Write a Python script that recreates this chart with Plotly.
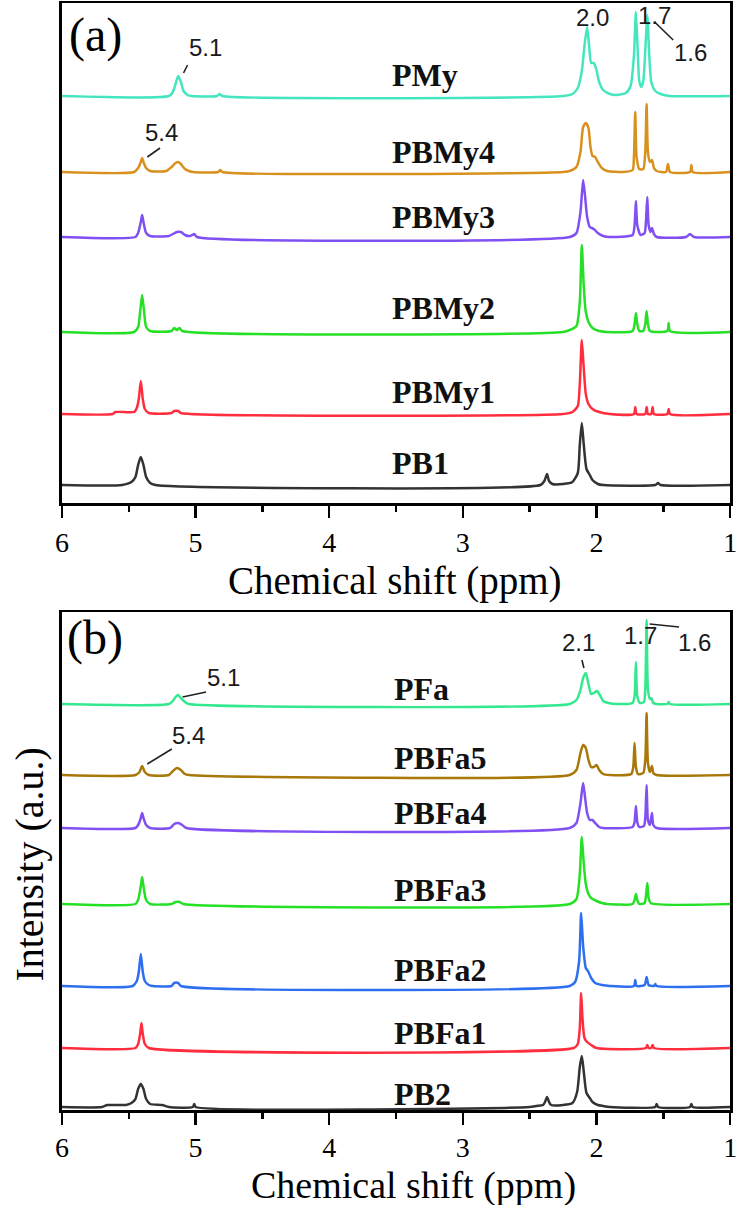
import plotly.graph_objects as go

# ---------------- data: spectra as (ppm, intensity) vertices ----------------
PMY = [(6.0,0),(5.20,0),(5.17,4),(5.15,12),(5.13,20),(5.11,14),(5.09,5),(5.06,1),(5.03,0),
       (4.84,0),(4.82,2),(4.80,0),(2.25,0),(2.18,2),(2.14,8),(2.11,25),(2.09,50),(2.07,69),
       (2.055,50),(2.04,33),(2.02,33),(2.00,26),(1.98,14),(1.95,6),(1.90,2),(1.85,1),(1.78,3),
       (1.745,10),(1.72,40),(1.705,84),(1.69,40),(1.68,15),(1.665,9),(1.65,15),(1.635,45),
       (1.62,81),(1.605,40),(1.59,14),(1.56,5),(1.52,2),(1.45,0),(1.0,0)]
PBMY4 = [(6.0,0),(5.46,0),(5.43,4),(5.41,10),(5.40,14),(5.39,10),(5.37,4),(5.34,1),(5.22,1),
         (5.18,5),(5.15,9),(5.13,10),(5.11,8),(5.08,3),(5.05,1),(5.02,0),(4.83,0),(4.815,2),
         (4.80,0),(2.25,0),(2.20,1),(2.15,5),(2.12,20),(2.10,45),(2.08,49),(2.06,44),(2.045,25),
         (2.03,16),(2.01,15),(1.99,10),(1.96,4),(1.92,1),(1.80,0),(1.73,2),(1.72,15),(1.71,60),
         (1.70,15),(1.68,3),(1.65,3),(1.635,20),(1.625,68),(1.615,20),(1.60,10),(1.585,12),
         (1.57,4),(1.55,1),(1.48,0),(1.465,8),(1.45,0),(1.30,0),(1.29,7),(1.28,0),(1.0,0)]
PBMY3 = [(6.0,0),(5.45,0),(5.43,4),(5.41,15),(5.40,22),(5.39,15),(5.37,4),(5.34,1),(5.20,1),
         (5.17,3),(5.14,5),(5.11,5),(5.08,2),(5.04,1),(5.01,3),(4.99,0),(2.20,0),(2.15,4),
         (2.12,25),(2.10,57),(2.085,40),(2.07,20),(2.05,10),(2.02,8),(1.99,4),(1.95,1),(1.90,0),
         (1.73,2),(1.715,12),(1.705,36),(1.695,12),(1.67,2),(1.64,4),(1.63,15),(1.62,40),
         (1.61,12),(1.595,5),(1.585,9),(1.57,3),(1.55,0),(1.33,0),(1.30,3),(1.27,0),(1.0,0)]
PBMY2 = [(6.0,0),(5.46,0),(5.43,5),(5.415,20),(5.40,37),(5.385,20),(5.37,5),(5.34,1),(5.18,1),
         (5.16,4),(5.14,2),(5.12,4),(5.10,1),(2.25,0),(2.20,2),(2.15,6),(2.125,30),(2.11,87),
         (2.095,45),(2.08,20),(2.06,10),(2.03,4),(1.98,1),(1.92,0),(1.73,1),(1.715,8),(1.705,19),
         (1.695,8),(1.68,1),(1.65,1),(1.635,8),(1.625,21),(1.615,8),(1.60,1),(1.47,1),(1.46,9),
         (1.45,1),(1.0,0)]
PBMY1 = [(6.0,0),(5.62,0),(5.60,2),(5.46,2),(5.44,6),(5.425,15),(5.41,33),(5.395,15),(5.38,5),
         (5.35,1),(5.18,1),(5.16,3),(5.13,3),(5.11,1),(2.25,0),(2.18,2),(2.14,8),(2.125,30),
         (2.11,74),(2.095,45),(2.08,20),(2.06,10),(2.03,5),(1.98,2),(1.90,0),(1.72,0),(1.71,7),
         (1.70,0),(1.635,0),(1.625,7),(1.615,0),(1.59,0),(1.58,7),(1.57,0),(1.47,0),(1.46,5),
         (1.45,0),(1.0,0)]
PB1 = [(6.0,0),(5.55,0),(5.48,3),(5.45,8),(5.43,20),(5.41,28),(5.39,20),(5.37,8),(5.34,2),
       (5.30,0),(2.42,0),(2.39,4),(2.37,11),(2.355,4),(2.33,1),(2.25,1),(2.18,3),(2.14,12),
       (2.125,40),(2.11,62),(2.095,40),(2.075,16),(2.05,10),(2.03,5),(1.99,1),(1.95,0),(1.56,0),
       (1.54,2),(1.52,0),(1.0,0)]

PFA = [(6.0,0),(5.20,0),(5.17,3),(5.15,7),(5.13,9),(5.11,6),(5.08,2),(5.05,0),(2.20,0),(2.15,4),
       (2.12,14),(2.10,26),(2.08,31),(2.06,20),(2.04,10),(2.02,11),(1.995,13),(1.975,9),(1.95,3),
       (1.91,1),(1.85,0),(1.73,1),(1.715,8),(1.705,42),(1.695,8),(1.675,1),(1.645,2),(1.635,15),
       (1.625,84),(1.615,15),(1.60,5),(1.59,6),(1.575,1),(1.55,0),(1.47,0),(1.46,2),(1.45,0),(1.0,0)]
PBFA5 = [(6.0,0),(5.45,0),(5.42,3),(5.40,9),(5.38,3),(5.35,0),(5.20,0),(5.17,4),(5.14,7),(5.11,5),
         (5.08,1),(5.05,0),(2.20,0),(2.15,5),(2.12,22),(2.10,30),(2.08,27),(2.06,15),(2.04,8),
         (2.02,8),(2.00,10),(1.98,5),(1.95,1),(1.90,0),(1.74,1),(1.725,8),(1.715,32),(1.705,8),
         (1.69,1),(1.65,2),(1.635,15),(1.625,62),(1.615,12),(1.60,3),(1.585,9),(1.575,2),(1.55,0),(1.0,0)]
PBFA4 = [(6.0,0),(5.45,0),(5.43,3),(5.41,10),(5.40,15),(5.39,10),(5.37,3),(5.34,0),(5.19,0),
         (5.16,4),(5.13,5),(5.10,3),(5.07,0),(2.20,0),(2.15,5),(2.12,25),(2.10,45),(2.085,30),
         (2.07,15),(2.05,8),(2.03,8),(2.01,5),(1.98,1),(1.95,0),(1.73,1),(1.715,6),(1.705,22),
         (1.695,6),(1.68,1),(1.645,2),(1.635,10),(1.625,43),(1.615,8),(1.60,3),(1.585,15),
         (1.575,3),(1.55,0),(1.0,0)]
PBFA3 = [(6.0,0),(5.45,0),(5.43,4),(5.41,18),(5.40,27),(5.39,18),(5.37,4),(5.34,0),(5.18,0),
         (5.15,2),(5.12,2),(5.09,0),(2.20,0),(2.15,5),(2.125,30),(2.11,67),(2.095,40),(2.08,20),
         (2.06,10),(2.04,6),(2.00,3),(1.96,1),(1.92,0),(1.73,0),(1.715,4),(1.705,10),(1.695,4),
         (1.68,0),(1.64,1),(1.63,8),(1.62,21),(1.61,6),(1.595,1),(1.0,0)]
PBFA2 = [(6.0,0),(5.47,0),(5.44,5),(5.425,14),(5.41,32),(5.395,14),(5.38,5),(5.35,1),(5.32,0),
         (5.18,0),(5.16,3),(5.13,3),(5.11,0),(2.20,0),(2.16,4),(2.13,25),(2.115,73),(2.10,40),
         (2.08,18),(2.06,14),(2.04,8),(2.01,3),(1.96,1),(1.90,0),(1.72,0),(1.71,6),(1.70,0),
         (1.64,1),(1.625,9),(1.61,1),(1.57,0),(1.56,2),(1.55,0),(1.0,0)]
PBFA1 = [(6.0,0),(5.45,0),(5.43,4),(5.415,14),(5.405,25),(5.395,14),(5.38,4),(5.35,0),(2.17,0),
         (2.14,4),(2.125,20),(2.115,55),(2.105,30),(2.09,10),(2.07,6),(2.04,3),(2.00,0),(1.63,0),
         (1.62,3),(1.61,0),(1.59,0),(1.58,3),(1.57,0),(1.0,0)]
PB2 = [(6.0,0),(5.70,0),(5.66,2),(5.52,2),(5.48,4),(5.45,8),(5.43,18),(5.41,23),(5.39,18),
       (5.37,8),(5.34,3),(5.25,2),(5.20,0),(5.02,0),(5.01,3),(5.00,0),(2.50,0),(2.45,1),(2.40,2),
       (2.385,5),(2.37,10),(2.355,5),(2.34,2),(2.25,2),(2.18,4),(2.145,15),(2.125,40),(2.11,51),
       (2.095,35),(2.075,14),(2.05,9),(2.03,5),(1.99,2),(1.95,1),(1.90,0),(1.56,0),(1.55,3),
       (1.54,0),(1.30,0),(1.29,3),(1.28,0),(1.0,0)]

NAMES_A = ["PMy", "PBMy4", "PBMy3", "PBMy2", "PBMy1", "PB1"]
NAMES_B = ["PFa", "PBFa5", "PBFa4", "PBFa3", "PBFa2", "PBFa1", "PB2"]
SPECTRA_A = [PMY, PBMY4, PBMY3, PBMY2, PBMY1, PB1]
SPECTRA_B = [PFA, PBFA5, PBFA4, PBFA3, PBFA2, PBFA1, PB2]
X_TICKS = [6, 5, 4, 3, 2, 1]

# ---------------- layout / style ----------------
W, H = 744, 1205
OFFS_A = [407, 331, 266, 171, 89, 18]          # stacking offsets (y units = px)
OFFS_B = [406, 335, 282, 206, 124, 62, 3]
LAB_DY_A = [21, 20, 20, 24, 22, 22]
LAB_DY_B = [15, 17, 15, 14, 16, 15, 13]
COL_A = ["#45e6bf", "#d8901e", "#8050f2", "#25e025", "#ff2d3d", "#333333"]
COL_B = ["#33e88e", "#a87808", "#8050f2", "#25e025", "#2e6ff0", "#ff2d3d", "#333333"]
SERIF = "Liberation Serif"
SANS = "Liberation Sans"

fig = go.Figure()

def add_panel(spectra, names, offs, cols, xa, ya):
    for sp, nm, off, c in zip(spectra, names, offs, cols):
        xs = [p[0] for p in sp]
        ys = [p[1] + off for p in sp]
        fig.add_trace(go.Scatter(x=xs, y=ys, mode="lines", name=nm, xaxis=xa, yaxis=ya,
                                 line=dict(color=c, width=2.5, shape="spline", smoothing=0.6),
                                 showlegend=False, hoverinfo="skip"))

add_panel(SPECTRA_A, NAMES_A, OFFS_A, COL_A, "x", "y")
add_panel(SPECTRA_B, NAMES_B, OFFS_B, COL_B, "x2", "y2")

xdom = [56 / W, 737 / W]
ydom_a = [1 - 503 / H, 1 - 3 / H]
ydom_b = [1 - 1110 / H, 1 - 612 / H]

xcommon = dict(range=[6, 1], domain=xdom, showline=True, linewidth=2.5, linecolor="black",
               mirror=True, ticks="outside", ticklen=12, tickwidth=2.5, tickcolor="black",
               tickvals=X_TICKS, ticktext=[str(t) for t in X_TICKS],
               tickfont=dict(family=SERIF, size=28, color="black"),
               minor=dict(dtick=0.5, ticks="outside", ticklen=6, tickwidth=2.5, tickcolor="black"),
               showgrid=False, zeroline=False, ticklabeloverflow="allow")
ycommon = dict(showline=True, linewidth=2.5, linecolor="black", mirror=True, ticks="",
               showticklabels=False, showgrid=False, zeroline=False)

fig.update_layout(
    width=W, height=H, margin=dict(l=0, r=0, t=0, b=0),
    paper_bgcolor="white", plot_bgcolor="white",
    xaxis=dict(**xcommon, anchor="y", ticklabelstandoff=1),
    yaxis=dict(**ycommon, domain=ydom_a, range=[0, 500], anchor="x"),
    xaxis2=dict(**xcommon, anchor="y2", ticklabelstandoff=-1),
    yaxis2=dict(**ycommon, domain=ydom_b, range=[0, 498], anchor="x2"),
)

anns = []
for nm, off, dy in zip(NAMES_A, OFFS_A, LAB_DY_A):
    anns.append(dict(x=3.548, y=off + dy, xref="x", yref="y", text=nm, showarrow=False,
                     xanchor="left", yanchor="middle",
                     font=dict(family=SERIF, size=32, color="#111", weight="bold")))
for nm, off, dy in zip(NAMES_B, OFFS_B, LAB_DY_B):
    anns.append(dict(x=3.53, y=off + dy, xref="x2", yref="y2", text=nm, showarrow=False,
                     xanchor="left", yanchor="middle",
                     font=dict(family=SERIF, size=32, color="#111", weight="bold")))

num_font = dict(family=SANS, size=24, color="#1a1a1a")
nums_a = [("5.1", 4.928, 455), ("5.4", 5.258, 371), ("2.0", 2.028, 485), ("1.7", 1.565, 487),
          ("1.6", 1.294, 450)]
nums_b = [("5.1", 4.789, 433), ("5.4", 5.053, 375), ("2.1", 2.131, 468), ("1.7", 1.668, 475),
          ("1.6", 1.264, 468)]
for t, x, y in nums_a:
    anns.append(dict(x=x, y=y, xref="x", yref="y", text=t, showarrow=False, font=num_font,
                     xanchor="center", yanchor="middle"))
for t, x, y in nums_b:
    anns.append(dict(x=x, y=y, xref="x2", yref="y2", text=t, showarrow=False, font=num_font,
                     xanchor="center", yanchor="middle"))

def paper_text(text, px, py, size, angle=0):
    return dict(x=px / W, y=1 - py / H, xref="paper", yref="paper", text=text, showarrow=False,
                xanchor="center", yanchor="middle", textangle=angle,
                font=dict(family=SERIF, size=size, color="black"))

anns.append(paper_text("(a)", 90, 35, 48))
anns.append(paper_text("(b)", 90, 638, 48))
anns.append(paper_text("Chemical shift (ppm)", 395, 581, 39))
anns.append(paper_text("Chemical shift (ppm)", 414, 1185, 38))
anns.append(paper_text("Intensity (a.u.)", 22, 865, 40, angle=-90))
fig.update_layout(annotations=anns)

# leader lines
lead_a = [(5.090, 430, 5.060, 438), (5.361, 346, 5.266, 355), (1.565, 481, 1.426, 463)]
lead_b = [(5.097, 413, 4.921, 418), (5.361, 346, 5.178, 361), (2.109, 450, 2.094, 442),
          (1.602, 486, 1.382, 483)]
for x0, y0, x1, y1 in lead_a:
    fig.add_shape(type="line", x0=x0, y0=y0, x1=x1, y1=y1, xref="x", yref="y",
                  line=dict(color="#222", width=1.6))
for x0, y0, x1, y1 in lead_b:
    fig.add_shape(type="line", x0=x0, y0=y0, x1=x1, y1=y1, xref="x2", yref="y2",
                  line=dict(color="#222", width=1.6))

fig.write_html("out.html", config={"displayModeBar": False, "staticPlot": True},
               post_script="document.body.style.margin='0px';")
